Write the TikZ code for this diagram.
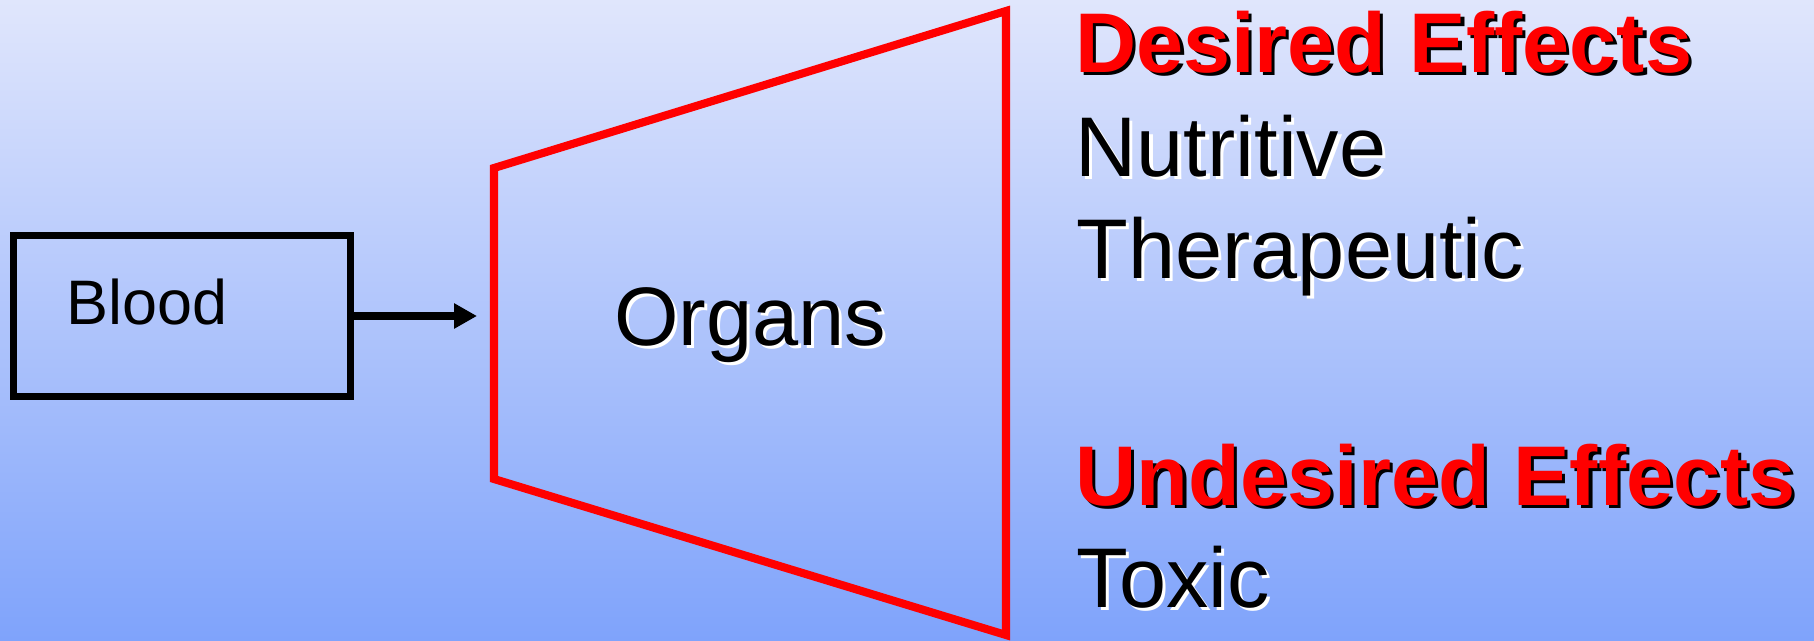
\documentclass[tikz,border=0pt]{standalone}
\usepackage{fontspec}
\setmainfont{Liberation Sans}
\usepackage{tikz}
\usetikzlibrary{positioning, arrows.meta}
\usepackage{xcolor}

\definecolor{bgtop}{HTML}{E0E6FC}
\definecolor{bgbottom}{HTML}{7FA3FB}
\definecolor{effectred}{HTML}{FF0000}

% text with a small offset shadow behind it
\newcommand{\shadowtxt}[2]{\makebox[0pt][l]{\kern0.9pt\raisebox{-0.9pt}{\textcolor{#1}{#2}}}#2}

\tikzset{
    bigtext/.style={font=\fontsize{24.1}{28}\selectfont, inner sep=0pt, anchor=base west},
    headtext/.style={bigtext, font=\fontsize{24.1}{28}\selectfont\bfseries, text=effectred},
}

\begin{document}
\begin{tikzpicture}[scale=1.0]
    \useasboundingbox (0,0) rectangle (18.14,6.4);
    \shade[top color=bgtop, bottom color=bgbottom] (0,0) rectangle (18.14,6.4);
    
    % Blood box and its label
    \node[draw, line width=2pt, minimum width=3.37cm, minimum height=1.61cm, inner sep=0pt]
        (blood) at (1.82,3.24) {};
    \node[font=\fontsize{17.9}{21}\selectfont, inner sep=0pt, anchor=base]
        (bloodlbl) at (1.47,3.16) {Blood};
    
    % Arrow into the organs
    \coordinate (organin) at (4.77,3.24);
    \draw[-{Triangle[length=2.3mm, width=2.4mm]}, line width=2pt] (blood.east) -- (organin);
    
    % Organs trapezoid
    \draw[effectred, line width=2.3pt, line join=miter]
        (4.94,4.72) -- (10.06,6.29) -- (10.06,0.05) -- (4.94,1.61) -- cycle;
    \node[font=\fontsize{23.6}{28}\selectfont, inner sep=0pt, anchor=base]
        (organs) at (7.50,2.95) {\shadowtxt{white}{Organs}};
    
    % Effects
    \node[headtext] (desired) at (10.75,5.68) {\shadowtxt{black}{Desired Effects}};
    \node[bigtext] (nutritive) at (10.75,4.64) {\shadowtxt{white}{Nutritive}};
    \node[bigtext] (therapeutic) at (10.76,3.62) {\shadowtxt{white}{Therapeutic}};
    \node[headtext] (undesired) at (10.75,1.35) {\shadowtxt{black}{Undesired Effects}};
    \node[bigtext] (toxic) at (10.76,0.33) {\shadowtxt{white}{Toxic}};
\end{tikzpicture}
\end{document}
